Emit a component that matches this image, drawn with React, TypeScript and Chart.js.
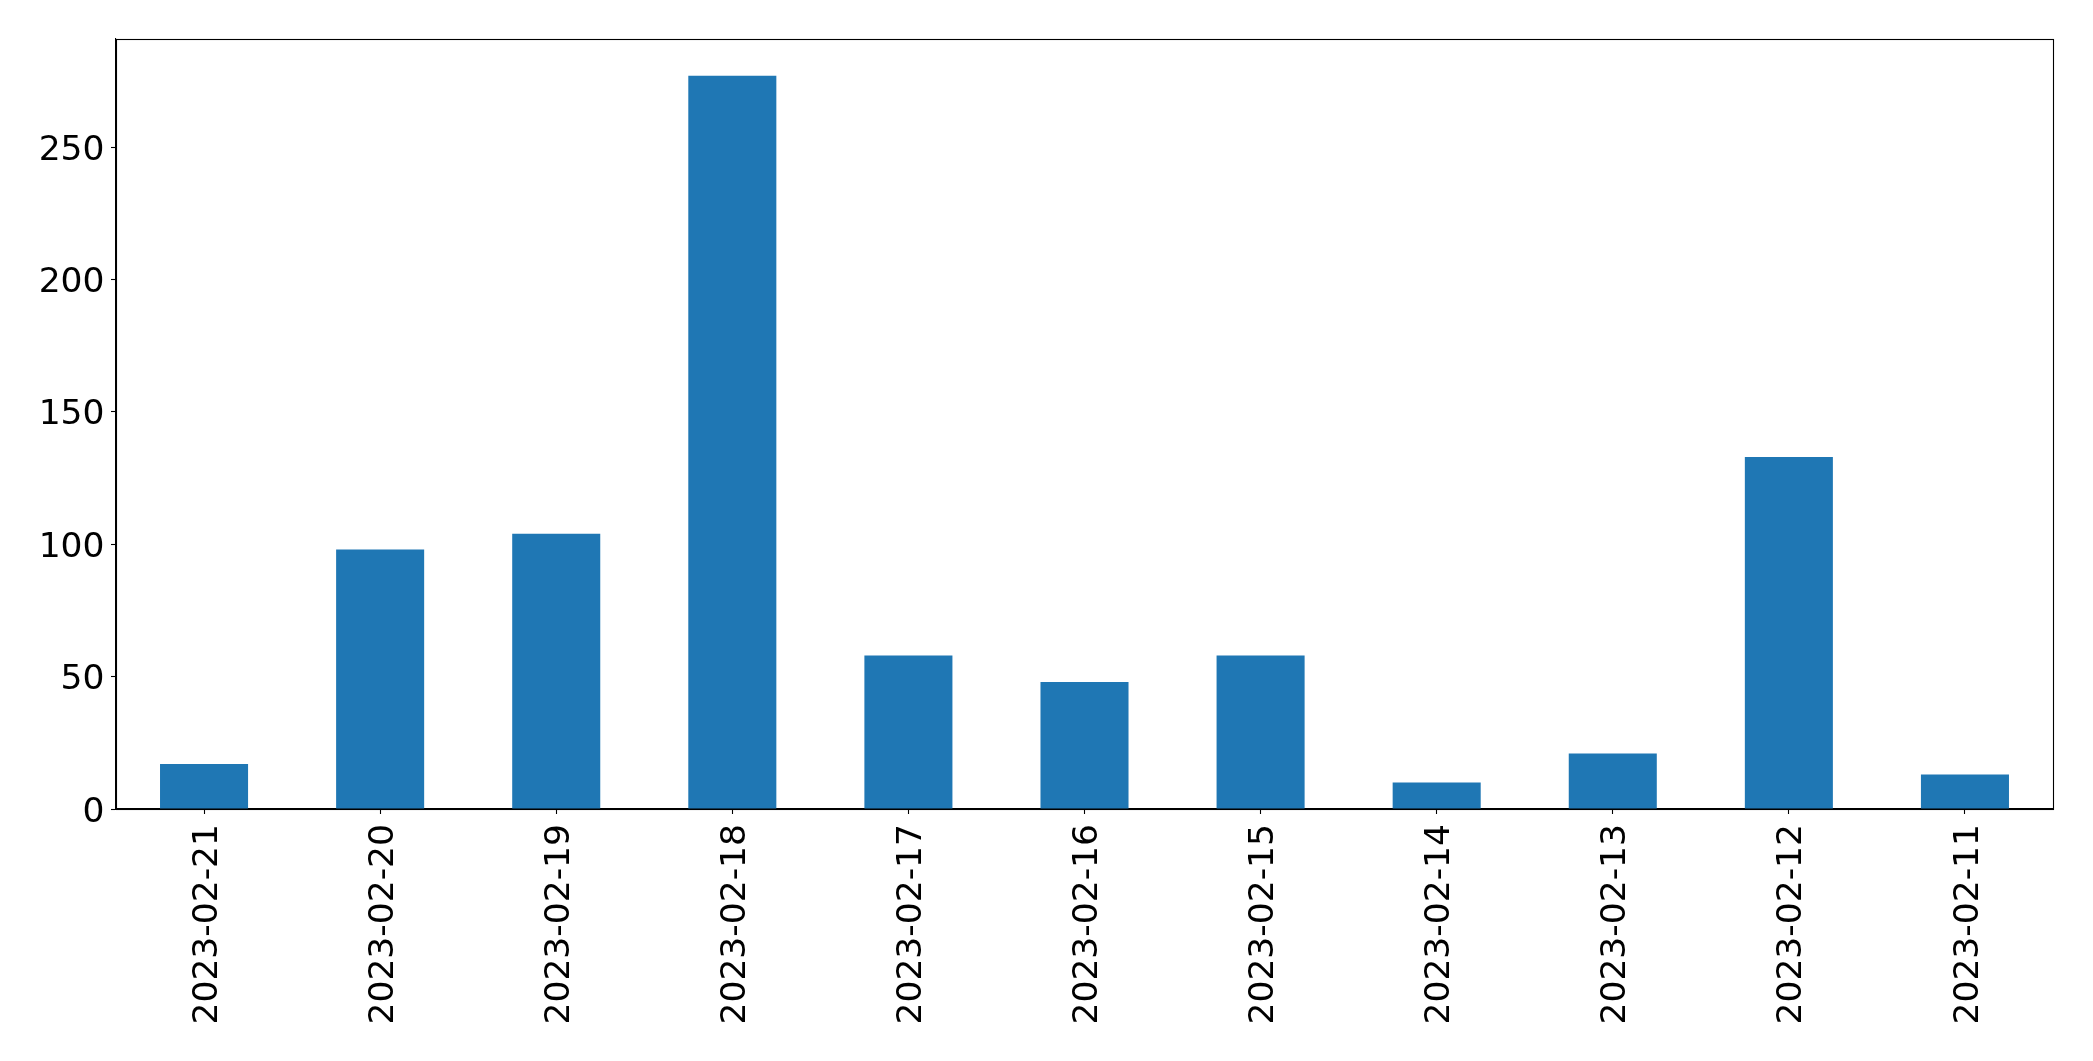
import React, { useEffect, useRef } from "react";
import { Chart, registerables } from "chart.js";

Chart.register(...registerables);

const categories = [
  "2023-02-21",
  "2023-02-20",
  "2023-02-19",
  "2023-02-18",
  "2023-02-17",
  "2023-02-16",
  "2023-02-15",
  "2023-02-14",
  "2023-02-13",
  "2023-02-12",
  "2023-02-11",
];
const counts = [17, 98, 104, 277, 58, 48, 58, 10, 21, 133, 13];
const yTicks = [0, 50, 100, 150, 200, 250];
const yMax = 290.85;

const W = 2093;
const H = 1061;
const FONT_SIZE = 34.5;
const FONT = `${FONT_SIZE}px 'DejaVu Sans', sans-serif`;

const framePlugin = {
  id: "frame",
  afterDatasetsDraw(chart: any) {
    const { ctx, chartArea } = chart;
    ctx.save();
    ctx.strokeStyle = "#000";
    ctx.lineWidth = 1.1;
    const l = Math.round(chartArea.left) + 0.5;
    const t = Math.round(chartArea.top) + 0.5;
    const r = Math.round(chartArea.right) + 0.5;
    const b = Math.round(chartArea.bottom) + 0.5;
    ctx.strokeRect(l, t, r - l, b - t);
    ctx.restore();
  },
};

// Tick labels placed matplotlib-style (visually centred on each tick)
const labelPlugin = {
  id: "mplLabels",
  afterDraw(chart: any) {
    const { ctx } = chart;
    const xs = chart.scales.x;
    const ys = chart.scales.y;
    ctx.save();
    ctx.fillStyle = "#000";
    ctx.font = FONT;
    // y labels
    ctx.textAlign = "right";
    ctx.textBaseline = "alphabetic";
    const yLabelRight = ys.right - 5 - 6.5;
    ys.ticks.forEach((t: any) => {
      const py = ys.getPixelForValue(t.value);
      ctx.fillText(String(t.value), yLabelRight, py + 0.364 * FONT_SIZE);
    });
    // x labels rotated 90°
    const top = xs.top + 15;
    categories.forEach((label, i) => {
      const px = xs.getPixelForValue(i);
      ctx.save();
      ctx.translate(px + 0.364 * FONT_SIZE, top);
      ctx.rotate(-Math.PI / 2);
      ctx.textAlign = "right";
      ctx.textBaseline = "alphabetic";
      ctx.fillText(label, 0, 0);
      ctx.restore();
    });
    ctx.restore();
  },
};

export default function App() {
  const ref = useRef<HTMLCanvasElement>(null);
  useEffect(() => {
    document.body.style.margin = "0";
    const chart = new Chart(ref.current as HTMLCanvasElement, {
      type: "bar",
      data: {
        labels: categories,
        datasets: [
          {
            data: counts,
            backgroundColor: "#1f77b4",
            barPercentage: 0.5,
            categoryPercentage: 1,
            borderWidth: 0,
          },
        ],
      },
      options: {
        responsive: false,
        animation: false,
        devicePixelRatio: 1,
        layout: { padding: { left: 0, top: 39, right: 40, bottom: 0 } },
        plugins: { legend: { display: false }, tooltip: { enabled: false } },
        scales: {
          x: {
            offset: true,
            grid: {
              display: true,
              drawOnChartArea: false,
              drawTicks: true,
              tickLength: 5,
              tickColor: "#000",
              tickWidth: 1.1,
              offset: false,
            },
            border: { display: true, color: "#000", width: 1.1 },
            ticks: { display: false, autoSkip: false },
            afterFit(scale: any) {
              scale.height = H - 809;
            },
          },
          y: {
            min: 0,
            max: yMax,
            grid: {
              display: true,
              drawOnChartArea: false,
              drawTicks: true,
              tickLength: 5,
              tickColor: "#000",
              tickWidth: 1.1,
            },
            border: { display: true, color: "#000", width: 1.1 },
            ticks: { display: false },
            afterBuildTicks(scale: any) {
              scale.ticks = yTicks.map((v) => ({ value: v }));
            },
            afterFit(scale: any) {
              scale.width = 116;
            },
          },
        },
      },
      plugins: [framePlugin, labelPlugin],
    });
    return () => chart.destroy();
  }, []);
  return (
    <div style={{ position: "fixed", left: 0, top: 0, width: W, height: H, background: "#fff" }}>
      <canvas ref={ref} width={W} height={H} style={{ width: W, height: H }} />
    </div>
  );
}
